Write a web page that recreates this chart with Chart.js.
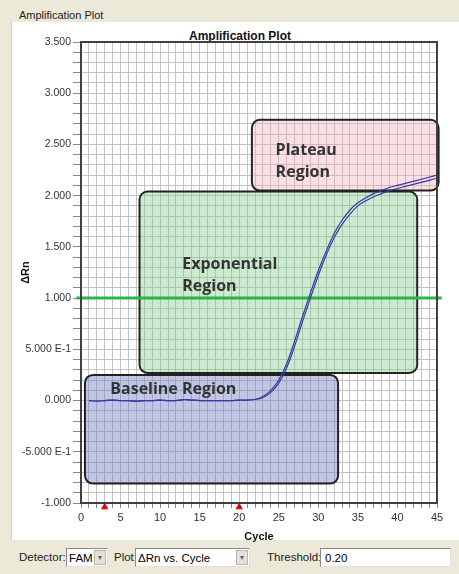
<!DOCTYPE html>
<html>
<head>
<meta charset="utf-8">
<script src="https://cdn.jsdelivr.net/npm/chart.js@4"></script>
<style>
  body { margin: 0; width: 459px; height: 574px; background: #ece9d8; font-family: "Liberation Sans", Arial, sans-serif; position: relative; overflow: hidden; }
  #panel { position: absolute; left: 11px; top: 22px; width: 448px; height: 518px; background: #fff; border-left: 1px solid #d0d0bf; }
  #group { position: absolute; left: 17px; top: 9px; font-size: 11px; color: #222; background: #ece9d8; padding: 0 2px; }
  #wrap { position: absolute; left: 0; top: 0; width: 459px; height: 544px; }
  #title { position: absolute; left: 189px; top: 29px; font-size: 12px; font-weight: bold; color: #111; }
  .bar { position: absolute; top: 547px; font-size: 11.5px; color: #222; }
  .box { position: absolute; top: 548px; height: 19px; background: #fff; border: 1px solid #8a8a8a; border-right-color: #e0e0e0; border-bottom-color: #e0e0e0; font-size: 11.5px; line-height: 19px; padding-left: 2px; box-sizing: border-box; }
  .arr { position: absolute; top: 1px; right: 1px; width: 12px; height: 15px; background: #e4e2d8; border: 1px solid #b8b6a8; box-sizing: border-box; font-size: 7px; color: #666; text-align: center; line-height: 13px; }
</style>
</head>
<body>
<div id="panel"></div>
<div id="group">Amplification Plot</div>
<div id="title">Amplification Plot</div>
<div id="wrap"><canvas id="amp"></canvas></div>
<div class="bar" style="left:19px;top:551px">Detector:</div>
<div class="box" style="left:66px;width:42px">FAM<div class="arr">&#9660;</div></div>
<div class="bar" style="left:114px;top:551px">Plot:</div>
<div class="box" style="left:135px;width:115px">ΔRn vs. Cycle<div class="arr">&#9660;</div></div>
<div class="bar" style="left:267px;top:551px">Threshold:</div>
<div class="box" style="left:320px;width:131px;padding-left:4px">0.20</div>
<script>
// Daten der Amplifikationskurve (ΔRn pro Zyklus)
const cycles = [1,2,3,4,5,6,7,8,9,10,11,12,13,14,15,16,17,18,19,20,21,22,23,24,25,26,27,28,29,30,31,32,33,34,35,36,37,38,39,40,41,42,43,44,45];
const deltaRnA = [0.00,-0.005,0.00,0.005,0.00,0.00,-0.005,0.00,0.00,0.005,0.00,0.00,0.01,0.005,0.00,0.00,0.00,0.00,0.00,0.005,0.005,
  0.01,0.04,0.10,0.20,0.36,0.58,0.82,1.05,1.27,1.46,1.63,1.76,1.86,1.93,1.98,2.02,2.05,2.08,2.10,2.12,2.14,2.16,2.18,2.20];
const deltaRnB = [0.00,-0.005,0.00,0.005,0.00,0.00,-0.005,0.00,0.00,0.005,0.00,0.00,0.01,0.005,0.00,0.00,0.00,0.00,0.00,0.005,0.005,
  0.01,0.03,0.08,0.17,0.32,0.53,0.77,1.00,1.22,1.42,1.59,1.72,1.82,1.90,1.95,1.99,2.02,2.05,2.07,2.09,2.11,2.13,2.15,2.17];

const thresholdLine = 1.0;
const baselineMarkers = [3, 20];

const yTickValues = [-1, -0.5, 0, 0.5, 1, 1.5, 2, 2.5, 3, 3.5];
const yTickLabels = ["-1.000", "-5.000 E-1", "0.000", "5.000 E-1", "1.000", "1.500", "2.000", "2.500", "3.000", "3.500"];
const xTickValues = [0, 5, 10, 15, 20, 25, 30, 35, 40, 45];

// Regionen (in Datenkoordinaten: Zyklus / ΔRn)
const regionNames = [["Baseline Region"], ["Exponential", "Region"], ["Plateau", "Region"]];
const regionX = [[0.5, 32.5], [7.4, 42.5], [21.6, 45.2]];
const regionY = [[-0.81, 0.25], [0.27, 2.04], [2.05, 2.74]];
const regionTextAt = [[3.7, 0.11], [12.8, 1.33], [24.6, 2.44]];
const regionFill = ["rgba(105,118,190,0.42)", "rgba(120,200,130,0.38)", "rgba(240,165,180,0.35)"];

const regionPlugin = {
  id: 'regions',
  beforeDatasetsDraw(chart) {
    const ctx = chart.ctx, xs = chart.scales.x, ys = chart.scales.y;
    ctx.save();
    regionX.forEach((rx, i) => {
      const x0 = xs.getPixelForValue(rx[0]), x1 = xs.getPixelForValue(rx[1]);
      const y0 = ys.getPixelForValue(regionY[i][1]), y1 = ys.getPixelForValue(regionY[i][0]);
      ctx.beginPath();
      ctx.roundRect(x0, y0, x1 - x0, y1 - y0, 8);
      ctx.fillStyle = regionFill[i];
      ctx.fill();
      ctx.lineWidth = 2;
      ctx.strokeStyle = '#222';
      ctx.stroke();
    });
    ctx.fillStyle = '#333';
    ctx.font = 'bold 16px "Open Sans"';
    ctx.textBaseline = 'middle';
    regionNames.forEach((lines, i) => {
      const tx = xs.getPixelForValue(regionTextAt[i][0]);
      const ty = ys.getPixelForValue(regionTextAt[i][1]);
      lines.forEach((t, j) => ctx.fillText(t, tx, ty + j * 22));
    });
    ctx.restore();
  },
  afterDraw(chart) {
    const a = chart.chartArea, ctx = chart.ctx;
    ctx.save();
    ctx.strokeStyle = '#404040';
    ctx.lineWidth = 2;
    ctx.strokeRect(a.left, a.top, a.right - a.left, a.bottom - a.top);
    ctx.restore();
  }
};

const ctx = document.getElementById('amp').getContext('2d');
new Chart(ctx, {
  type: 'scatter',
  data: {
    datasets: [
      {
        data: cycles.map((c, i) => ({ x: c, y: deltaRnA[i] })),
        showLine: true, borderColor: '#3a3a9e', borderWidth: 1.2, pointRadius: 0, tension: 0.3
      },
      {
        data: cycles.map((c, i) => ({ x: c, y: deltaRnB[i] })),
        showLine: true, borderColor: '#3a3a9e', borderWidth: 1.2, pointRadius: 0, tension: 0.3
      },
      {
        data: [{ x: -0.6, y: thresholdLine }, { x: 45.6, y: thresholdLine }],
        showLine: true, borderColor: '#2eb548', borderWidth: 3, pointRadius: 0, clip: false
      },
      {
        data: baselineMarkers.map(c => ({ x: c, y: -1.04 })),
        pointStyle: 'triangle', pointRadius: 3.5, backgroundColor: '#e00000', borderColor: '#e00000', clip: false
      }
    ]
  },
  options: {
    responsive: true,
    maintainAspectRatio: false,
    animation: false,
    layout: { padding: { top: 42, right: 22, left: 0, bottom: 0 } },
    plugins: { legend: { display: false }, tooltip: { enabled: false } },
    scales: {
      x: {
        type: 'linear', min: 0, max: 45,
        afterFit: s => { s.height = 41; },
        grid: { color: '#c4c4c4', lineWidth: 1, tickLength: 5, tickColor: '#888' },
        border: { color: '#404040', width: 2 },
        ticks: {
          stepSize: 1, autoSkip: false, maxRotation: 0, padding: 3,
          color: '#333', font: { family: 'Liberation Sans', size: 11 },
          callback: v => xTickValues.includes(v) ? String(v) : ''
        },
        title: { display: true, text: 'Cycle', color: '#111', padding: 0, font: { family: 'Liberation Sans', size: 11, weight: 'bold' } }
      },
      y: {
        min: -1, max: 3.5,
        afterFit: s => { s.width = 81; },
        grid: { color: '#c4c4c4', lineWidth: 1, tickLength: 8, tickColor: '#888' },
        border: { color: '#404040', width: 2 },
        ticks: {
          stepSize: 0.1, autoSkip: false, padding: 2,
          color: '#333', font: { family: 'Liberation Sans', size: 10.5 },
          callback: v => {
            const i = yTickValues.findIndex(t => Math.abs(t - v) < 1e-6);
            return i >= 0 ? yTickLabels[i] : '';
          }
        },
        title: { display: true, text: 'ΔRn', color: '#111', padding: { top: 19, bottom: 0 }, font: { family: 'Liberation Sans', size: 11, weight: 'bold' } }
      }
    }
  },
  plugins: [regionPlugin]
});
</script>
</body>
</html>
